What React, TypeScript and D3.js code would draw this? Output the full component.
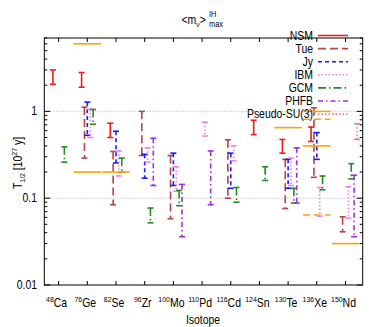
import * as d3 from "d3";

// isotopes on the x axis
const isotopeMass = ["48", "76", "82", "96", "100", "110", "116", "124", "130", "136", "150"];
const isotopeName = ["Ca", "Ge", "Se", "Zr", "Mo", "Pd", "Cd", "Sn", "Te", "Xe", "Nd"];

// half-life ranges [low, high] in 10^27 y, one entry per isotope (null = no value)
type Range = [number, number] | null;
const nsm: Range[] = [[2.05, 3.0], [1.9, 2.8], [0.5, 0.73], null, null, null, null, [0.54, 0.79], [0.33, 0.475], [0.45, 0.66], null];
const tue: Range[] = [null, [0.29, 1.12], [0.084, 0.345], [0.31, 1.0], [0.058, 0.31], null, [0.1, 0.47], null, [0.076, 0.28], [0.174, 1.1], [0.041, 0.061]];
const jy: Range[] = [null, [0.53, 1.28], [0.255, 0.59], [0.17, 0.32], [0.14, 0.33], null, [0.13, 0.33], null, [0.13, 0.28], [0.28, 0.57], null];
const ibm: Range[] = [null, [0.5, 1.06], [0.18, 0.35], [0.26, 0.38], [0.12, 0.23], [0.52, 0.75], [0.27, 0.4], null, [0.14, 0.29], [0.062, 0.133], [0.059, 0.135]];
const gcm: Range[] = [[0.26, 0.39], [0.71, 1.05], [0.2, 0.29], [0.052, 0.077], [0.082, 0.123], null, [0.09, 0.133], [0.16, 0.23], [0.088, 0.13], [0.125, 0.18], [0.167, 0.25]];
const phfb: Range[] = [null, null, null, [0.14, 0.49], [0.036, 0.144], [0.084, 0.35], null, null, [0.088, 0.38], null, [0.036, 0.184]];
const su3: Range[] = [null, null, null, null, null, null, null, null, null, null, [0.475, 0.72]];

// orange horizontal marks (isotope index, value, dashed)
const markIsotope = [1, 1, 2, 8, 9, 9, 9, 9, 10];
const markValue = [6.0, 0.2, 0.2, 0.65, 1.0, 0.81, 0.4, 0.064, 0.03];
const markDashed = [false, false, false, false, false, true, false, true, false];

const yTicks = [0.01, 0.1, 1];

const W = 382;
const H = 327;
const x = d3.scaleLinear().domain([0.5, 11.6]).range([44.3, 362.7]);
const y = d3.scaleLog().domain([0.01, 7]).range([285, 38]);

const models = [
  { name: "NSM", data: nsm, color: "#ee1c1c", dash: "", off: -0.2 },
  { name: "Tue", data: tue, color: "#b84444", dash: "8,4", off: -0.1 },
  { name: "Jy", data: jy, color: "#1a1aff", dash: "4,3", off: 0 },
  { name: "IBM", data: ibm, color: "#ee82ee", dash: "1.5,2", off: 0.1 },
  { name: "GCM", data: gcm, color: "#228b22", dash: "8,3,1.5,3", off: 0.2 },
  { name: "PHFB", data: phfb, color: "#9b30d9", dash: "5,3,1.5,3", off: 0.3 },
  { name: "Pseudo-SU(3)", data: su3, color: "#f08080", dash: "1.5,2", off: 0.4 },
];

const SX = 0.87;
const FONT = "Liberation Sans, Arial, sans-serif";

const minorTicks: number[] = [];
[0.01, 0.1, 1].forEach((d) => {
  for (let k = 2; k <= 9; k++) if (d * k <= 7) minorTicks.push(d * k);
});

export default function App() {
  const [x0, x1] = x.range();
  const [yb, yt] = y.range();
  const legendX = 313;
  const legendY0 = 35.5;
  const legendDy = 13.1;

  return (
    <svg width={W} height={H} style={{ position: "absolute", left: 0, top: 0, background: "#fff" }}>
      {/* grid */}
      {[0.1, 1].map((v) => (
        <line key={v} x1={x0} x2={x1} y1={y(v)} y2={y(v)} stroke="#bbb" strokeWidth={0.8} strokeDasharray="1.5,1.5" />
      ))}

      {/* error bars */}
      {models.map((m) =>
        m.data.map((r, i) => {
          if (!r) return null;
          const cx = x(i + 1 + m.off);
          const ya = y(r[1]);
          const yz = y(r[0]);
          return (
            <g key={m.name + i} stroke={m.color} strokeWidth={1.6} fill="none">
              <line x1={cx} x2={cx} y1={ya} y2={yz} strokeDasharray={m.dash || undefined} />
              <line x1={cx - 3} x2={cx + 3} y1={ya} y2={ya} />
              <line x1={cx - 3} x2={cx + 3} y1={yz} y2={yz} />
            </g>
          );
        })
      )}

      {/* orange marks */}
      {markIsotope.map((iso, k) => (
        <line
          key={"mk" + k}
          x1={x(iso + 1 - 0.48)}
          x2={x(iso + 1 + 0.48)}
          y1={y(markValue[k])}
          y2={y(markValue[k])}
          stroke="#ffa500"
          strokeWidth={1.6}
          strokeDasharray={markDashed[k] ? "7,4" : undefined}
        />
      ))}

      {/* frame */}
      <rect x={x0} y={yt} width={x1 - x0} height={yb - yt} fill="none" stroke="#000" strokeWidth={1} />

      {/* y ticks */}
      {yTicks.map((v) => (
        <g key={"yt" + v}>
          <line x1={x0} x2={x0 + 6} y1={y(v)} y2={y(v)} stroke="#000" />
          <line x1={x1} x2={x1 - 6} y1={y(v)} y2={y(v)} stroke="#000" />
          <text
            transform={`translate(37,${y(v) + 4}) scale(${SX},1)`}
            textAnchor="end"
            fontSize={12}
            fontFamily={FONT}
          >
            {String(v)}
          </text>
        </g>
      ))}
      {minorTicks.map((v) => (
        <g key={"ym" + v}>
          <line x1={x0} x2={x0 + 3} y1={y(v)} y2={y(v)} stroke="#000" />
          <line x1={x1} x2={x1 - 3} y1={y(v)} y2={y(v)} stroke="#000" />
        </g>
      ))}

      {/* x ticks */}
      {isotopeName.map((nm, i) => {
        const tx = x(i + 1);
        return (
          <g key={"xt" + nm}>
            <line x1={tx} x2={tx} y1={yb} y2={yb - 4} stroke="#000" />
            <line x1={tx} x2={tx} y1={yt} y2={yt + 4} stroke="#000" />
            <text transform={`translate(${tx - 2},306.5) scale(${SX},1)`} textAnchor="middle" fontSize={12} fontFamily={FONT}>
              <tspan fontSize={8} dy={-5}>{isotopeMass[i]}</tspan>
              <tspan dy={5}>{nm}</tspan>
            </text>
          </g>
        );
      })}

      {/* axis titles */}
      <text transform={`translate(203,323.5) scale(${SX},1)`} textAnchor="middle" fontSize={12} fontFamily={FONT}>
        Isotope
      </text>
      <text transform={`translate(22,163) rotate(-90) scale(${SX},1)`} textAnchor="middle" fontSize={12} fontFamily={FONT}>
        T<tspan fontSize={8} dy={3}>1/2</tspan>
        <tspan dy={-3}> [10</tspan>
        <tspan fontSize={8} dy={-5}>27</tspan>
        <tspan dy={5}> y]</tspan>
      </text>

      {/* title */}
      <text transform={`translate(181.5,24) scale(${SX},1)`} fontSize={12} fontFamily={FONT}>
        {"<m"}
        <tspan fontSize={8} dy={3}>ν</tspan>
        <tspan dy={-3}>{">"}</tspan>
      </text>
      <text transform={`translate(209,17.3) scale(${SX},1)`} fontSize={8.5} fontFamily={FONT}>
        IH
      </text>
      <text transform={`translate(209,26.5) scale(${SX},1)`} fontSize={8.5} fontFamily={FONT}>
        max
      </text>

      {/* legend */}
      {models.map((m, k) => {
        const ly = legendY0 + k * legendDy;
        return (
          <g key={"lg" + m.name}>
            <text transform={`translate(${legendX},${ly + 4.3}) scale(${SX},1)`} textAnchor="end" fontSize={12} fontFamily={FONT}>
              {m.name}
            </text>
            <line x1={318} x2={348} y1={ly} y2={ly} stroke={m.color} strokeWidth={1.6} strokeDasharray={m.dash || undefined} />
          </g>
        );
      })}
    </svg>
  );
}
